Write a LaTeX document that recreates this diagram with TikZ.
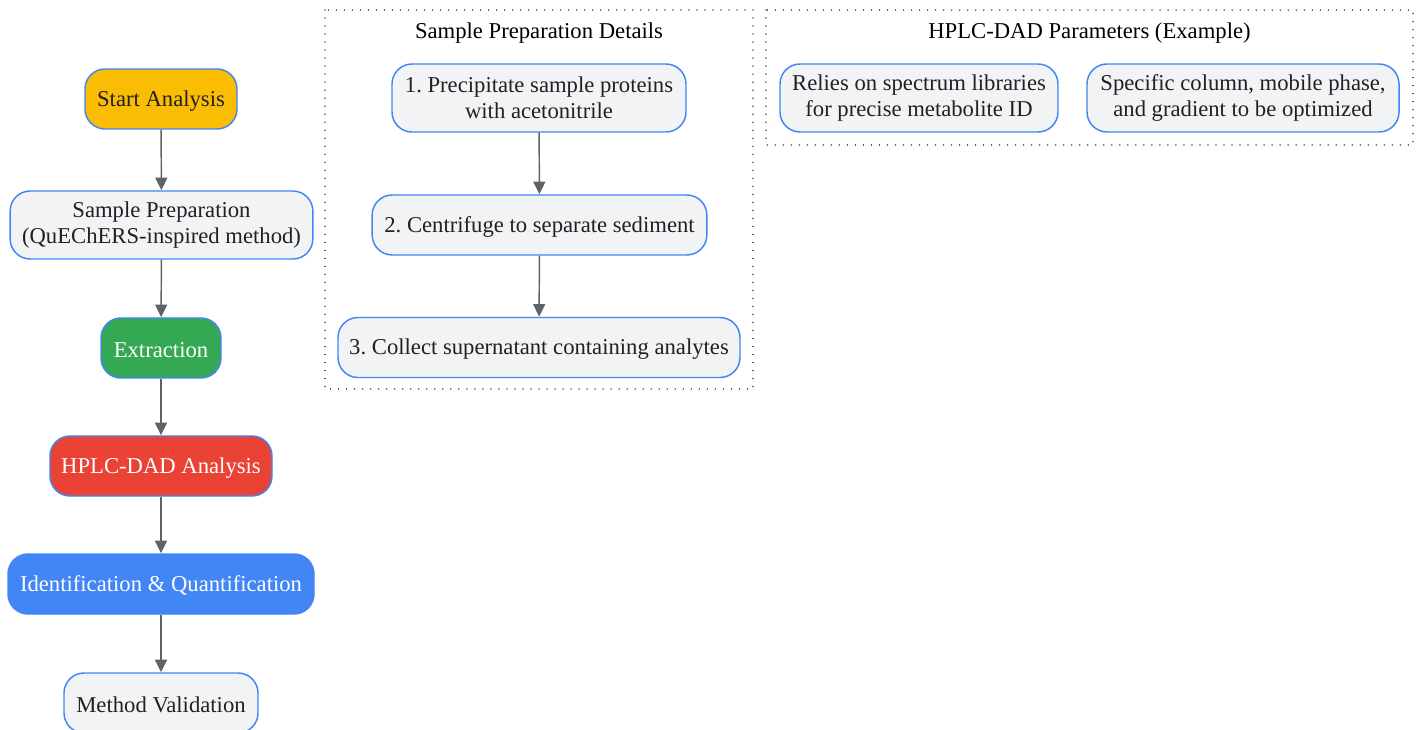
\documentclass[tikz,border=0pt]{standalone}
\usepackage{fontspec}
\setmainfont{Liberation Serif}
\usetikzlibrary{arrows.meta}
\frenchspacing
\definecolor{edgec}{HTML}{4285F4}
\definecolor{paleg}{HTML}{F1F3F4}
\definecolor{linkc}{HTML}{5F6368}
\definecolor{txtc}{HTML}{202124}
\definecolor{yellowc}{HTML}{FBBC04}
\definecolor{greenc}{HTML}{34A853}
\definecolor{redc}{HTML}{EA4335}

\begin{document}
\begin{tikzpicture}[x=0.75pt,y=-0.75pt,
  box/.style={draw=edgec,line width=1.1pt,fill=paleg,rounded corners=15pt,align=center,
    text=txtc,font=\fontsize{17}{19.5}\selectfont,minimum height=45pt,inner sep=0pt,
    execute at begin node={\rule{0pt}{14.6pt}}},
  link/.style={draw=linkc,line width=1.1pt,-{Triangle[length=9.5pt,width=9pt]}},
  cluster/.style={draw=black!70,line width=1.1pt,dash pattern=on 0.01pt off 6pt,line cap=round},
  title/.style={font=\fontsize{17}{19.5}\selectfont,text=black}]
  \useasboundingbox (0,0) rectangle (1420,730);
  % main flow
  \node[box,fill=yellowc,minimum width=114pt] (start) at (161,99) {Start Analysis};
  \node[box,minimum width=227pt,minimum height=51pt] (prep) at (161.5,225) {Sample Preparation\\(QuEChERS-inspired method)};
  \node[box,fill=greenc,text=white,minimum width=90pt] (extr) at (161,348) {Extraction};
  \node[box,fill=redc,text=white,minimum width=166.5pt] (hplc) at (161,466) {HPLC-DAD Analysis};
  \node[box,fill=edgec,text=white,minimum width=229.5pt] (ident) at (161,584) {Identification \& Quantification};
  \node[box,minimum width=145.5pt] (valid) at (161,703) {Method Validation};
  % sample preparation details
  \draw[cluster] (325,10) rectangle (753,389);
  \node[title] (preptitle) at (539,33) {Sample Preparation Details};
  \node[box,minimum width=220.5pt,minimum height=51pt] (step1) at (539,98) {1. Precipitate sample proteins\\with acetonitrile};
  \node[box,minimum width=251pt] (step2) at (539.5,225) {2. Centrifuge to separate sediment};
  \node[box,minimum width=301.5pt] (step3) at (539,347.5) {3. Collect supernatant containing analytes};
  % hplc parameters
  \draw[cluster] (766,10) rectangle (1413,145);
  \node[title] (partitle) at (1089.5,33) {HPLC-DAD Parameters (Example)};
  \node[box,minimum width=208.5pt,minimum height=51pt] (par1) at (919,98) {Relies on spectrum libraries\\for precise metabolite ID};
  \node[box,minimum width=234pt,minimum height=51pt] (par2) at (1243,98) {Specific column, mobile phase,\\and gradient to be optimized};
  \foreach \a/\b in {start/prep,prep/extr,extr/hplc,hplc/ident,ident/valid,step1/step2,step2/step3}
    \draw[link] (\a) -- (\b);
\end{tikzpicture}
\end{document}
